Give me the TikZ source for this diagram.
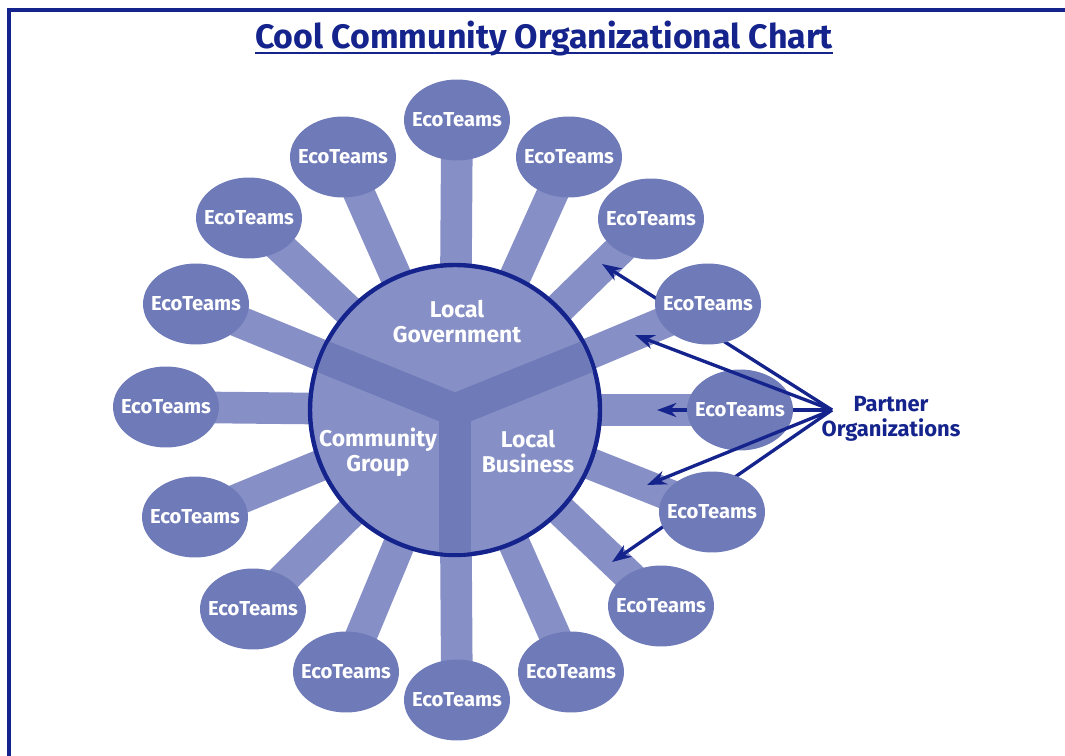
\documentclass[tikz,border=0pt]{standalone}
\usepackage{fontspec}
\setmainfont{Fira Sans}
\usepackage{tikz}
\usetikzlibrary{shapes.geometric}
\usetikzlibrary{arrows.meta}
\definecolor{ecoblue}{HTML}{6F7AB8}
\definecolor{spokeblue}{HTML}{8790C6}
\definecolor{darkblue}{HTML}{14248C}
\pgfdeclarelayer{spokes}
\pgfsetlayers{spokes,main}
\newcommand{\ecoteams}{\makebox[0pt]{EcoTeams}}
\tikzset{
	eco/.style={
		ellipse,
		fill=ecoblue,
		minimum width=2.12cm,
		minimum height=1.62cm,
		inner sep=0pt,
		text=white,
		font=\bfseries\fontsize{11.5}{14}\selectfont},
	hub/.style={
		circle,
		fill=spokeblue,
		draw=darkblue,
		line width=2.5pt,
		minimum size=5.8cm},
	region/.style={
		text=white,
		align=center,
		font=\bfseries\fontsize{13}{14.2}\selectfont},
	partner/.style={
		text=darkblue,
		align=center,
		font=\bfseries\fontsize{12.5}{14.2}\selectfont},
	title/.style={
		text=darkblue,
		inner sep=0pt,
		anchor=base,
		font=\bfseries\fontsize{19.3}{22}\selectfont},
	spoke/.style={
		draw=spokeblue,
		line width=18pt},
	arm/.style={
		draw=ecoblue,
		line width=18.7pt,
		line join=miter},
	pointer/.style={
		draw=darkblue,
		line width=1.9pt,
		-{Stealth[length=11pt,width=8pt]}}
}
\begin{document}
\begin{tikzpicture}[x=0.02cm, y=-0.02cm]
	\useasboundingbox (0,0) rectangle (1065,756);
	\draw[darkblue, line width=2.2pt] (9,756) -- (9,10) -- (1065,10);
	\node[title] (title) at (544,49) {Cool Community Organizational Chart};
	\draw[darkblue, line width=1.1pt] ([yshift=-2.3pt]title.base west) -- ([yshift=-2.3pt]title.base east);
	% hub and its three sectors
	\node[hub] (hub) at (455,410) {};
	\begin{scope}
		\clip (hub.center) circle[radius=143];
		\draw[arm] (hub.center) ++(-250,-101) -- (hub.center) -- ++(250,-101);
		\draw[arm] (hub.center) -- ++(0,200);
	\end{scope}
	\node[region] (gov) at (457,322) {Local\\Government};
	\node[region] (grp) at (378,452) {Community\\Group};
	\node[region] (biz) at (528,452) {Local\\Business};
	% EcoTeams round the hub
	\node[eco] (e1) at (457,120) {\ecoteams};
	\node[eco] (e2) at (569,157) {\ecoteams};
	\node[eco] (e3) at (651,219) {\ecoteams};
	\node[eco] (e4) at (708,304) {\ecoteams};
	\node[eco] (e5) at (740,410) {\ecoteams};
	\node[eco] (e6) at (712,512) {\ecoteams};
	\node[eco] (e7) at (661,606) {\ecoteams};
	\node[eco] (e8) at (571,672) {\ecoteams};
	\node[eco] (e9) at (457,700) {\ecoteams};
	\node[eco] (e10) at (346,672) {\ecoteams};
	\node[eco] (e11) at (253,609) {\ecoteams};
	\node[eco] (e12) at (195,517) {\ecoteams};
	\node[eco] (e13) at (166,407) {\ecoteams};
	\node[eco] (e14) at (196,304) {\ecoteams};
	\node[eco] (e15) at (249,218) {\ecoteams};
	\node[eco] (e16) at (343,157) {\ecoteams};
	% partners
	\node[partner] (partner) at (891,419) {Partner\\Organizations};
	\coordinate (apex) at (832,410);
	\coordinate (t1) at (602,264);
	\coordinate (t2) at (635,335);
	\coordinate (t3) at (657,410);
	\coordinate (t4) at (647,485);
	\coordinate (t5) at (612,562);
	\begin{pgfonlayer}{spokes}
		\foreach \i in {1,...,16}
			\draw[spoke] (hub.center) -- (e\i.center);
		\draw[pointer] (apex) -- (t1);
		\draw[pointer] (apex) -- (t3);
		\draw[pointer] (apex) -- (t5);
	\end{pgfonlayer}
	\draw[pointer] (apex) -- (t2);
	\draw[pointer] (apex) -- (t4);
\end{tikzpicture}
\end{document}
